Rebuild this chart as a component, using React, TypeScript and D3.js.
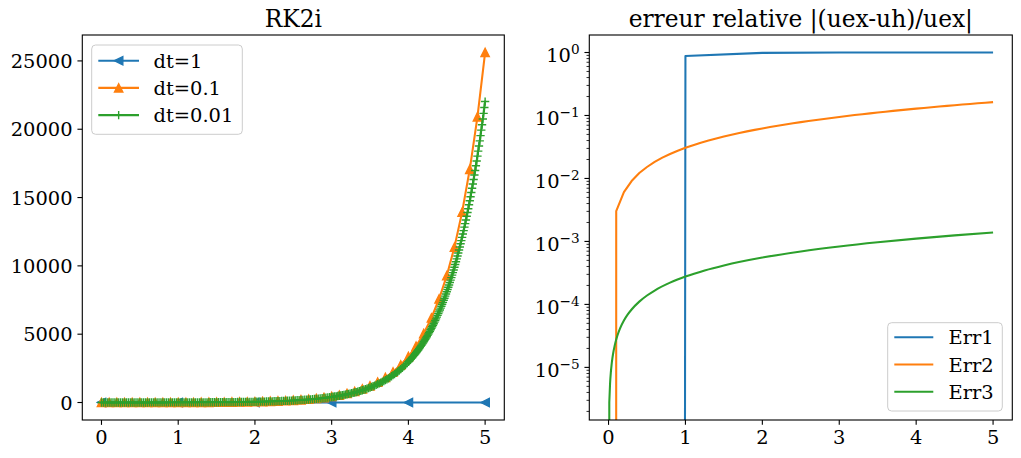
import React from "react";
import * as d3 from "d3";

// ---------- data (read / estimated from the reference) ----------
const xTickValues = [0, 1, 2, 3, 4, 5];
const yTickValuesLeft = [0, 5000, 10000, 15000, 20000, 25000];
const logMajorExponents = [-5, -4, -3, -2, -1, 0];

// dt = 1
const tDt1 = [0, 1, 2, 3, 4, 5];
const uhDt1 = [1, 0.887, 0.787, 0.698, 0.619, 0.549];

// dt = 0.1 (t = 0 .. 5 step 0.1)
const uhDt01 = [
  1, 1.225, 1.501, 1.839, 2.253, 2.76, 3.381, 4.142, 5.074, 6.217, 7.616, 9.33, 11.43, 14.0, 17.16,
  21.02, 25.75, 31.54, 38.64, 47.34, 58.0, 71.05, 87.05, 106.6, 130.6, 160.1, 196.1, 240.3, 294.3,
  360.6, 441.8, 541.2, 663.1, 812.3, 995.2, 1219.2, 1493.7, 1830.0, 2242.0, 2747, 3364, 4121, 5048,
  6185, 7577, 9283, 11372, 13931, 17068, 20910, 25616,
];

// dt = 0.01 : part A (t = 0 .. 3 step 0.025)
const uhDt001A = [
  1, 1.051, 1.105, 1.162, 1.221, 1.284, 1.35, 1.419, 1.492, 1.568,
  1.649, 1.733, 1.822, 1.916, 2.014, 2.117, 2.226, 2.34, 2.46, 2.586,
  2.718, 2.858, 3.004, 3.158, 3.32, 3.49, 3.669, 3.857, 4.055, 4.263,
  4.482, 4.712, 4.953, 5.207, 5.474, 5.755, 6.05, 6.36, 6.686, 7.029,
  7.389, 7.768, 8.166, 8.585, 9.025, 9.488, 9.974, 10.49, 11.02, 11.59,
  12.18, 12.81, 13.46, 14.15, 14.88, 15.64, 16.44, 17.29, 18.17, 19.11,
  20.09, 21.12, 22.2, 23.34, 24.53, 25.79, 27.11, 28.5, 29.96, 31.5,
  33.12, 34.81, 36.6, 38.48, 40.45, 42.52, 44.7, 46.99, 49.4, 51.94,
  54.6, 57.4, 60.34, 63.43, 66.69, 70.11, 73.7, 77.48, 81.45, 85.63,
  90.02, 94.63, 99.48, 104.6, 109.9, 115.6, 121.5, 127.7, 134.3, 141.2,
  148.4, 156.0, 164.0, 172.4, 181.3, 190.6, 200.3, 210.6, 221.4, 232.8,
  244.7, 257.2, 270.4, 284.3, 298.9, 314.2, 330.3, 347.2, 365.0, 383.8,
  403.4,
];
// part B (t = 3.02 .. 4.00 step 0.02)
const uhDt001B = [
  419.9, 437.0, 454.9, 473.4, 492.75, 512.9, 533.8, 555.6, 578.2, 601.85,
  626.4, 652.0, 678.6, 706.3, 735.1, 765.1, 796.3, 828.8, 862.7, 897.85,
  934.5, 972.6, 1012.3, 1053.6, 1096.6, 1141.4, 1187.9, 1236.4, 1286.9, 1339.4,
  1394.1, 1451.0, 1510.2, 1571.8, 1636.0, 1702.8, 1772.3, 1844.6, 1919.9, 1998.2,
  2079.8, 2164.6, 2253.0, 2344.9, 2440.6, 2540.2, 2643.9, 2751.8, 2864.1, 2981.0,
];
// part C (t = 4.01 .. 5.00 step 0.01)
const uhDt001C = [
  3041.2, 3102.7, 3165.3, 3229.3, 3294.5, 3361.1, 3429.0, 3498.2, 3568.9, 3641.0,
  3714.5, 3789.6, 3866.2, 3944.3, 4023.9, 4105.2, 4188.1, 4272.8, 4359.1, 4447.1,
  4536.9, 4628.6, 4722.1, 4817.5, 4914.8, 5014.1, 5115.4, 5218.7, 5324.2, 5431.7,
  5541.4, 5653.4, 5767.6, 5884.1, 6003.0, 6124.2, 6247.9, 6374.2, 6502.9, 6634.2,
  6768.2, 6904.9, 7044.5, 7186.8, 7331.9, 7480.1, 7631.1, 7785.3, 7942.6, 8103.1,
  8266.8, 8433.8, 8604.2, 8778.0, 8955.3, 9136.2, 9320.8, 9509.1, 9701.2, 9897.1,
  10097, 10301, 10509, 10721, 10938, 11159, 11384, 11614, 11849, 12088,
  12332, 12581, 12836, 13095, 13359, 13629, 13904, 14185, 14472, 14765,
  15063, 15368, 15678, 15995, 16318, 16648, 16984, 17327, 17677, 18034,
  18398, 18770, 19149, 19536, 19931, 20333, 20744, 21163, 21591, 22026,
];

// relative errors
const err1 = [0, 0.88, 0.9856, 0.99827, 0.99979, 0.999975];
const err2 = [
  0, 0.00302, 0.00606, 0.0091, 0.0122, 0.0152, 0.0183, 0.0214, 0.0245, 0.0276, 0.0307,
  0.0338, 0.0369, 0.04, 0.0432, 0.0463, 0.0495, 0.0527, 0.0559, 0.0591, 0.0623,
  0.0655, 0.0687, 0.0719, 0.0752, 0.0784, 0.0817, 0.085, 0.0882, 0.0915, 0.0948,
  0.0981, 0.1015, 0.1048, 0.1081, 0.1115, 0.1149, 0.1182, 0.1216, 0.125, 0.1284,
  0.1318, 0.1352, 0.1387, 0.1421, 0.1456, 0.149, 0.1525, 0.156, 0.1595, 0.163,
];
const tErr3 = [
  0, 0.01, 0.02, 0.03, 0.04, 0.05, 0.06, 0.08, 0.1, 0.12, 0.15, 0.2, 0.25, 0.3, 0.4, 0.5, 0.6,
  0.8, 1, 1.25, 1.5, 2, 2.5, 3, 3.5, 4, 4.5, 5,
];
const err3 = [
  0, 2.77e-6, 5.54e-6, 8.31e-6, 1.108e-5, 1.385e-5, 1.662e-5, 2.216e-5, 2.77e-5, 3.324e-5,
  4.155e-5, 5.54e-5, 6.925e-5, 8.31e-5, 1.108e-4, 1.385e-4, 1.662e-4, 2.216e-4, 2.77e-4,
  3.463e-4, 4.155e-4, 5.54e-4, 6.925e-4, 8.31e-4, 9.695e-4, 1.108e-3, 1.2465e-3, 1.385e-3,
];

// ---------- styling ----------
const FONT = "'DejaVu Serif', 'Liberation Serif', serif";
const FS = 19.44;
const FS_TITLE = 23.33;
const C1 = "#1f77b4";
const C2 = "#ff7f0e";
const C3 = "#2ca02c";
const LW = 2.08;
const MS = 8.33;
const MEW = 1.39;

const LA = { x0: 82.3, x1: 504.3, y0: 35, y1: 420 };
const RA = { x0: 589.3, x1: 1012.3, y0: 35, y1: 420 };

type P = [number, number];

function triUp(x: number, y: number) {
  const h = MS / 2;
  return `M${x},${y - h}L${x - h},${y + h}L${x + h},${y + h}Z`;
}
function triLeft(x: number, y: number) {
  const h = MS / 2;
  return `M${x - h},${y}L${x + h},${y - h}L${x + h},${y + h}Z`;
}
function plus(x: number, y: number) {
  const h = MS / 2;
  return `M${x - h},${y}L${x + h},${y}M${x},${y - h}L${x},${y + h}`;
}

export default function App() {
  // time grids
  const tDt01 = uhDt01.map((_, i) => i / 10);
  const tA = uhDt001A.map((_, i) => i * 0.025);
  const tB = uhDt001B.map((_, i) => 3 + (i + 1) * 0.02);
  const tC = uhDt001C.map((_, i) => 4 + (i + 1) * 0.01);
  const tDt001 = [...tA, ...tB, ...tC];
  const uhDt001 = [...uhDt001A, ...uhDt001B, ...uhDt001C];
  const tErr2 = err2.map((_, i) => i / 10);

  // ---- left scales
  const xL = d3.scaleLinear().domain([-0.25, 5.25]).range([LA.x0, LA.x1]);
  const allLeft = [...uhDt1, ...uhDt01, ...uhDt001];
  const mn = d3.min(allLeft) as number;
  const mx = d3.max(allLeft) as number;
  const padL = (mx - mn) * 0.05;
  const yL = d3.scaleLinear().domain([mn - padL, mx + padL]).range([LA.y1, LA.y0]);

  // ---- right scales
  const xR = d3.scaleLinear().domain([-0.25, 5.25]).range([RA.x0, RA.x1]);
  const positives = [...err1, ...err2, ...err3].filter((v) => v > 0);
  const lmin = Math.log10(d3.min(positives) as number);
  const lmax = Math.log10(d3.max(positives) as number);
  const lpad = (lmax - lmin) * 0.05;
  const yR = d3
    .scaleLog()
    .domain([Math.pow(10, lmin - lpad), Math.pow(10, lmax + lpad)])
    .range([RA.y1, RA.y0]);
  const decadePx = yR(1) - yR(10);
  const pyR = (v: number) => (v > 0 ? yR(v) : yR(1) + 1000 * decadePx);

  const lineLin = d3.line<P>().x((d) => d[0]).y((d) => d[1]);

  const mkPts = (ts: number[], vs: number[], xs: any, ys: (v: number) => number): P[] =>
    ts.map((t, i) => [xs(t), ys(vs[i])] as P);

  const bluePts = mkPts(tDt1, uhDt1, xL, yL);
  const orangePts = mkPts(tDt01, uhDt01, xL, yL);
  const greenPts = mkPts(tDt001, uhDt001, xL, yL);

  const e1Pts = mkPts(tDt1, err1, xR, pyR);
  const e2Pts = mkPts(tErr2, err2, xR, pyR);
  const e3Pos = tErr3
    .map((t, i) => [t, err3[i]] as P)
    .filter((d) => d[1] > 0)
    .map((d) => [xR(d[0]), yR(d[1])] as P);
  const e3Smooth = d3.line<P>().x((d) => d[0]).y((d) => d[1]).curve(d3.curveMonotoneX)(e3Pos) as string;
  const e3Path = `M${xR(tErr3[0])},${pyR(err3[0])}L` + e3Smooth.slice(1);

  // minor log ticks
  const [dLo, dHi] = yR.domain();
  const minorTicks: number[] = [];
  for (let e = -7; e <= 1; e++) {
    for (let m = 2; m <= 9; m++) {
      const v = m * Math.pow(10, e);
      if (v >= dLo && v <= dHi) minorTicks.push(v);
    }
  }

  const tickLen = 4.86;
  const minorLen = 2.78;
  const labelGap = 9.7;
  const axisColor = "#000";

  const leftLegend = [
    { label: "dt=1", color: C1, marker: "left" },
    { label: "dt=0.1", color: C2, marker: "up" },
    { label: "dt=0.01", color: C3, marker: "plus" },
  ];
  const rightLegend = [
    { label: "Err1", color: C1 },
    { label: "Err2", color: C2 },
    { label: "Err3", color: C3 },
  ];

  const drawMarker = (kind: string, x: number, y: number, color: string, key: any) => {
    if (kind === "plus")
      return <path key={key} d={plus(x, y)} stroke={color} strokeWidth={MEW} fill="none" />;
    const d = kind === "up" ? triUp(x, y) : triLeft(x, y);
    return <path key={key} d={d} fill={color} stroke={color} strokeWidth={MEW} strokeLinejoin="miter" />;
  };

  const lgL = { x: 91.7, y: 45, w: 150.6, h: 89.3, row0: 60.7, dy: 27.2, hx0: 98.3, hx1: 139, tx: 153.5 };
  const lgR = { x: 887.7, y: 322.7, w: 114.6, h: 88.3, row0: 337.2, dy: 27.3, hx0: 894.3, hx1: 933.3, tx: 948.5 };

  return (
    <svg
      width={1021}
      height={458}
      style={{ position: "fixed", left: 0, top: 0, background: "#fff" }}
      fontFamily={FONT}
      fontSize={FS}
    >
      <defs>
        <clipPath id="clipL">
          <rect x={LA.x0} y={LA.y0} width={LA.x1 - LA.x0} height={LA.y1 - LA.y0} />
        </clipPath>
        <clipPath id="clipR">
          <rect x={RA.x0} y={RA.y0} width={RA.x1 - RA.x0} height={RA.y1 - RA.y0} />
        </clipPath>
      </defs>
      <rect x={0} y={0} width={1021} height={458} fill="#fff" />

      {/* ================= LEFT ================= */}
      <text x={(LA.x0 + LA.x1) / 2} y={26.7} textAnchor="middle" fontSize={FS_TITLE}>RK2i</text>
      <g clipPath="url(#clipL)">
        <path d={lineLin(bluePts) as string} fill="none" stroke={C1} strokeWidth={LW} strokeLinejoin="round" strokeLinecap="square" />
        {bluePts.map((p, i) => drawMarker("left", p[0], p[1], C1, "b" + i))}
        <path d={lineLin(orangePts) as string} fill="none" stroke={C2} strokeWidth={LW} strokeLinejoin="round" strokeLinecap="square" />
        {orangePts.map((p, i) => drawMarker("up", p[0], p[1], C2, "o" + i))}
        <path d={lineLin(greenPts) as string} fill="none" stroke={C3} strokeWidth={LW} strokeLinejoin="round" strokeLinecap="square" />
        {greenPts.map((p, i) => drawMarker("plus", p[0], p[1], C3, "g" + i))}
      </g>
      <rect x={LA.x0} y={LA.y0} width={LA.x1 - LA.x0} height={LA.y1 - LA.y0} fill="none" stroke={axisColor} strokeWidth={1.11} />
      {xTickValues.map((t) => (
        <g key={"lx" + t}>
          <line x1={xL(t)} x2={xL(t)} y1={LA.y1} y2={LA.y1 + tickLen} stroke={axisColor} strokeWidth={1.11} />
          <text x={xL(t)} y={LA.y1 + labelGap + 14.2} textAnchor="middle">{t}</text>
        </g>
      ))}
      {yTickValuesLeft.map((v) => (
        <g key={"ly" + v}>
          <line x1={LA.x0 - tickLen} x2={LA.x0} y1={yL(v)} y2={yL(v)} stroke={axisColor} strokeWidth={1.11} />
          <text x={LA.x0 - labelGap} y={yL(v) + 7} textAnchor="end">{v}</text>
        </g>
      ))}
      {/* left legend */}
      <rect x={lgL.x} y={lgL.y} width={lgL.w} height={lgL.h} rx={3.9} fill="#fff" fillOpacity={0.8} stroke="#cccccc" strokeWidth={1} />
      {leftLegend.map((it, i) => {
        const y = lgL.row0 + i * lgL.dy;
        return (
          <g key={"ll" + i}>
            <line x1={lgL.hx0} x2={lgL.hx1} y1={y} y2={y} stroke={it.color} strokeWidth={LW} />
            {drawMarker(it.marker, (lgL.hx0 + lgL.hx1) / 2, y, it.color, "m" + i)}
            <text x={lgL.tx} y={y + 7}>{it.label}</text>
          </g>
        );
      })}

      {/* ================= RIGHT ================= */}
      <text x={(RA.x0 + RA.x1) / 2} y={26.7} textAnchor="middle" fontSize={FS_TITLE}>erreur relative |(uex-uh)/uex|</text>
      <g clipPath="url(#clipR)">
        <path d={lineLin(e1Pts) as string} fill="none" stroke={C1} strokeWidth={LW} strokeLinejoin="round" />
        <path d={lineLin(e2Pts) as string} fill="none" stroke={C2} strokeWidth={LW} strokeLinejoin="round" />
        <path d={e3Path} fill="none" stroke={C3} strokeWidth={LW} strokeLinejoin="round" />
      </g>
      <rect x={RA.x0} y={RA.y0} width={RA.x1 - RA.x0} height={RA.y1 - RA.y0} fill="none" stroke={axisColor} strokeWidth={1.11} />
      {xTickValues.map((t) => (
        <g key={"rx" + t}>
          <line x1={xR(t)} x2={xR(t)} y1={RA.y1} y2={RA.y1 + tickLen} stroke={axisColor} strokeWidth={1.11} />
          <text x={xR(t)} y={RA.y1 + labelGap + 14.2} textAnchor="middle">{t}</text>
        </g>
      ))}
      {minorTicks.map((v, i) => (
        <line key={"mn" + i} x1={RA.x0 - minorLen} x2={RA.x0} y1={yR(v)} y2={yR(v)} stroke={axisColor} strokeWidth={0.83} />
      ))}
      {logMajorExponents.map((e) => {
        const y = yR(Math.pow(10, e));
        const sup = e < 0 ? "\u2212" + Math.abs(e) : String(e);
        return (
          <g key={"ry" + e}>
            <line x1={RA.x0 - tickLen} x2={RA.x0} y1={y} y2={y} stroke={axisColor} strokeWidth={1.11} />
            <text x={RA.x0 - labelGap} y={y + 9.2} textAnchor="end">
              <tspan>10</tspan>
              <tspan dy={-7.7} fontSize={FS * 0.7}>{sup}</tspan>
            </text>
          </g>
        );
      })}
      {/* right legend */}
      <rect x={lgR.x} y={lgR.y} width={lgR.w} height={lgR.h} rx={3.9} fill="#fff" fillOpacity={0.8} stroke="#cccccc" strokeWidth={1} />
      {rightLegend.map((it, i) => {
        const y = lgR.row0 + i * lgR.dy;
        return (
          <g key={"rl" + i}>
            <line x1={lgR.hx0} x2={lgR.hx1} y1={y} y2={y} stroke={it.color} strokeWidth={LW} />
            <text x={lgR.tx} y={y + 7}>{it.label}</text>
          </g>
        );
      })}
    </svg>
  );
}
